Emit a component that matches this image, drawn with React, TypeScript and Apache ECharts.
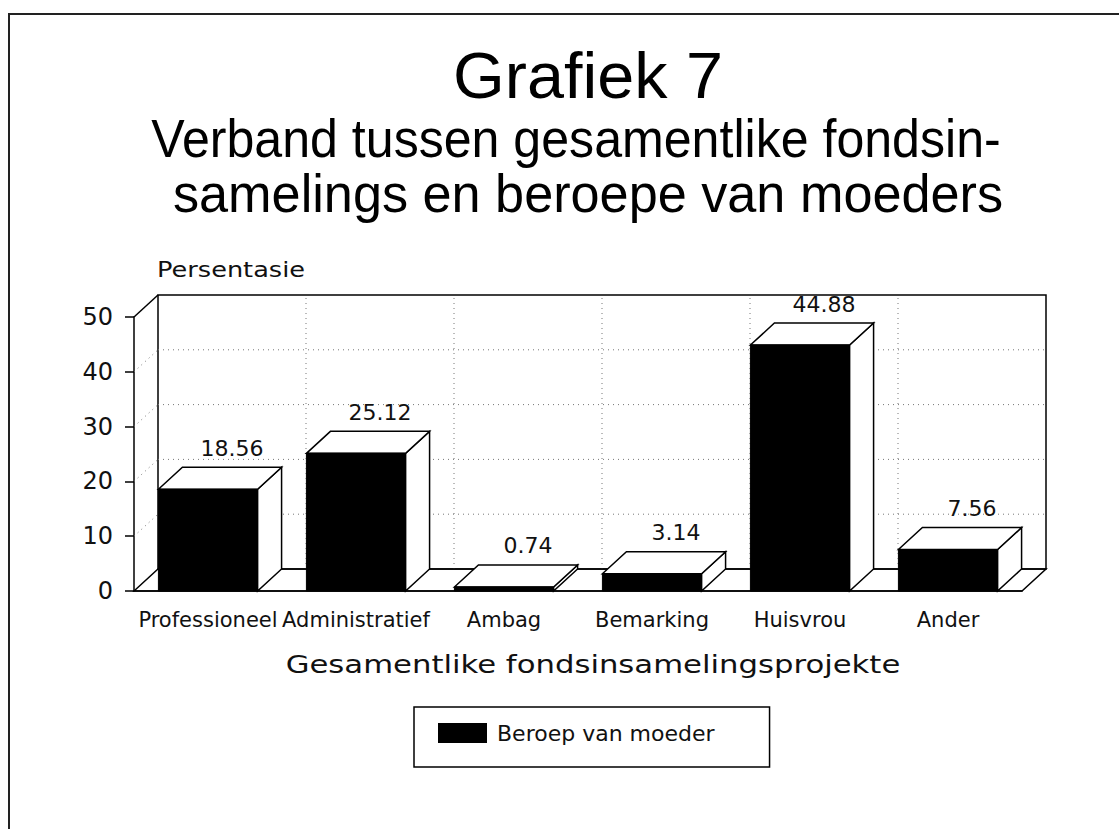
import React, { useEffect, useRef } from 'react';
import * as echarts from 'echarts';

const categories = ['Professioneel', 'Administratief', 'Ambag', 'Bemarking', 'Huisvrou', 'Ander'];
const values = [18.56, 25.12, 0.74, 3.14, 44.88, 7.56];
const yTicks = [0, 10, 20, 30, 40, 50];
const seriesName = 'Beroep van moeder';
const titleText = 'Grafiek 7';
const subtitleLines = ['Verband tussen gesamentlike fondsin-', 'samelings en beroepe van moeders'];
const yAxisTitle = 'Persentasie';
const xAxisTitle = 'Gesamentlike fondsinsamelingsprojekte';

const DX = 24;
const DY = -22;
const BAR_FRAC = 0.67;
const PLOT = '"DejaVu Sans", sans-serif';
const HEAD = '"Liberation Sans", Arial, sans-serif';
const EDGE = { stroke: '#000', lineWidth: 1.5 };
const DOT = { stroke: '#777', lineWidth: 1, lineDash: [1, 4] };

export default function App() {
  const ref = useRef<HTMLDivElement>(null);
  useEffect(() => {
    if (!ref.current) return;
    const chart = echarts.init(ref.current, undefined, { renderer: 'svg' });
    const yMin = yTicks[0];
    const yMax = yTicks[yTicks.length - 1];
    const option: any = {
      animation: false,
      backgroundColor: '#fff',
      grid: { left: 134, top: 317, width: 888, height: 274, containLabel: false },
      xAxis: {
        type: 'category',
        data: categories,
        axisLine: { lineStyle: { color: '#000', width: 1.5 } },
        axisTick: { alignWithLabel: true, length: 9, lineStyle: { color: '#000', width: 1.5 } },
        axisLabel: { interval: 0, margin: 18, fontSize: 21, fontFamily: PLOT, color: '#111' },
        splitLine: { show: false },
      },
      yAxis: {
        type: 'value',
        min: yMin,
        max: yMax,
        interval: yTicks[1] - yTicks[0],
        axisLine: { show: true, lineStyle: { color: '#000', width: 1.5 } },
        axisTick: { show: true, length: 9, lineStyle: { color: '#000', width: 1.5 } },
        axisLabel: { margin: 21, fontSize: 24, fontFamily: PLOT, color: '#111' },
        splitLine: { show: false },
      },
      legend: {
        left: 414,
        top: 707,
        orient: 'horizontal',
        selectedMode: false,
        padding: [15, 55, 23, 24],
        borderColor: '#000',
        borderWidth: 1.5,
        itemWidth: 49,
        itemHeight: 20,
        textStyle: { fontSize: 22, fontFamily: PLOT, color: '#111', padding: [0, 0, 0, 5] },
        data: [{ name: seriesName, icon: 'rect', itemStyle: { color: '#000' } }],
      },
      graphic: [
        { type: 'polyline', shape: { points: [[9, 829], [9, 14], [1119, 14]] }, style: { stroke: '#222', lineWidth: 2, fill: 'none' } },
        { type: 'text', x: 588, y: 76, scaleX: 1.04, style: { text: titleText, fontSize: 64, fontFamily: HEAD, fill: '#000', align: 'center', verticalAlign: 'middle' } },
        { type: 'text', x: 576, y: 138, scaleX: 0.928, style: { text: subtitleLines[0], fontSize: 54, fontFamily: HEAD, fill: '#000', align: 'center', verticalAlign: 'middle' } },
        { type: 'text', x: 588, y: 193, scaleX: 0.967, style: { text: subtitleLines[1], fontSize: 54, fontFamily: HEAD, fill: '#000', align: 'center', verticalAlign: 'middle' } },
        { type: 'text', x: 157, y: 270, scaleX: 1.22, style: { text: yAxisTitle, fontSize: 21, fontFamily: PLOT, fill: '#111', align: 'left', verticalAlign: 'middle' } },
        { type: 'text', x: 593, y: 664, scaleX: 1.28, style: { text: xAxisTitle, fontSize: 24, fontFamily: PLOT, fill: '#111', align: 'center', verticalAlign: 'middle' } },
      ],
      series: [
        {
          type: 'custom',
          name: 'frame',
          silent: true,
          z: 1,
          data: [[0, 0]],
          renderItem: (params: any, api: any) => {
            const cs = params.coordSys;
            const x0 = cs.x;
            const x1 = cs.x + cs.width;
            const yb = api.coord([0, yMin])[1];
            const yt = api.coord([0, yMax])[1];
            const band = api.size([1, 0])[0];
            const children: any[] = [];
            children.push({ type: 'rect', shape: { x: x0 + DX, y: yt + DY, width: x1 - x0, height: yb - yt }, style: { fill: '#fff', ...EDGE } });
            yTicks.slice(1, -1).forEach((v) => {
              const y = api.coord([0, v])[1];
              children.push({ type: 'line', shape: { x1: x0 + DX, y1: y + DY, x2: x1 + DX, y2: y + DY }, style: DOT });
              children.push({ type: 'line', shape: { x1: x0, y1: y, x2: x0 + DX, y2: y + DY }, style: DOT });
            });
            for (let i = 1; i < categories.length; i++) {
              const x = x0 + band * i + DX;
              children.push({ type: 'line', shape: { x1: x, y1: yb + DY, x2: x, y2: yt + DY }, style: DOT });
            }
            children.push({ type: 'polygon', shape: { points: [[x0, yb], [x0 + DX, yb + DY], [x1 + DX, yb + DY], [x1, yb]] }, style: { fill: 'none', ...EDGE } });
            children.push({ type: 'line', shape: { x1: x0, y1: yt, x2: x0 + DX, y2: yt + DY }, style: EDGE });
            return { type: 'group', children };
          },
        },
        {
          type: 'custom',
          name: seriesName,
          z: 2,
          itemStyle: { color: '#000' },
          encode: { x: 0, y: 1 },
          data: values.map((v, i) => [i, v]),
          renderItem: (params: any, api: any) => {
            const idx = api.value(0);
            const v = api.value(1);
            const top = api.coord([idx, v]);
            const base = api.coord([idx, 0]);
            const w = api.size([1, 0])[0] * BAR_FRAC;
            const l = top[0] - w / 2;
            const r = top[0] + w / 2;
            const yt = top[1];
            const yb = base[1];
            return {
              type: 'group',
              children: [
                { type: 'polygon', shape: { points: [[r, yt], [r + DX, yt + DY], [r + DX, yb + DY], [r, yb]] }, style: { fill: '#fff', ...EDGE } },
                { type: 'polygon', shape: { points: [[l, yt], [l + DX, yt + DY], [r + DX, yt + DY], [r, yt]] }, style: { fill: '#fff', ...EDGE } },
                { type: 'rect', shape: { x: l, y: yt, width: w, height: yb - yt }, style: { fill: '#000', stroke: '#000', lineWidth: 1 } },
                { type: 'text', x: top[0] + DX, y: yt + DY - 8, style: { text: v.toFixed(2), fontSize: 22, fontFamily: PLOT, fill: '#111', align: 'center', verticalAlign: 'bottom' } },
              ],
            };
          },
        },
      ],
    };
    chart.setOption(option);
    return () => chart.dispose();
  }, []);
  return <div ref={ref} style={{ position: 'absolute', left: 0, top: 0, width: 1119, height: 829, background: '#fff' }} />;
}
